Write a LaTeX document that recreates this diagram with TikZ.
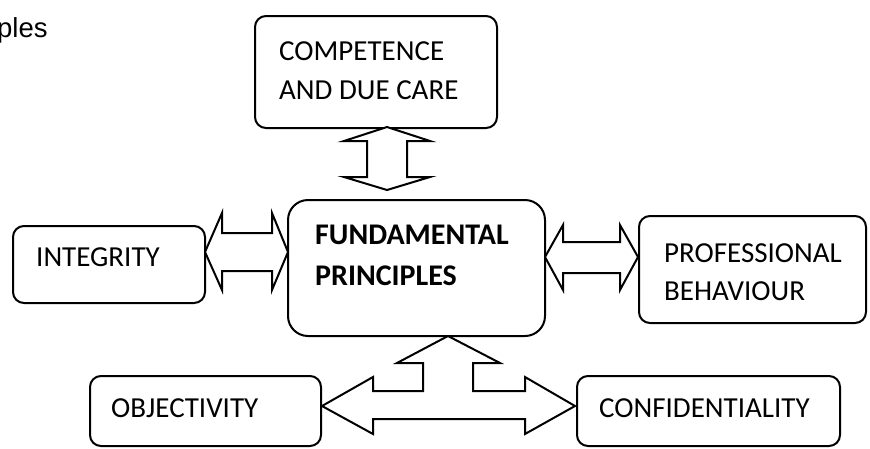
\documentclass[tikz,border=0pt]{standalone}
\usepackage{fontspec}
\setmainfont{Carlito}
\newfontfamily\arialfont{Liberation Sans}
\begin{document}
\begin{tikzpicture}[x=1pt,y=-1pt,
  line join=miter,
  box/.style={draw=black, line width=2pt, rounded corners=11pt, inner sep=0pt, fill=white},
  lbl/.style={anchor=base west, inner sep=0pt, font=\fontsize{29}{34}\selectfont},
  blbl/.style={lbl, font=\fontsize{30}{34}\selectfont\bfseries},
  blockarrow/.style={draw=black, line width=2pt, fill=white, line join=miter}]
\useasboundingbox (0,0) rectangle (870,448);
\fill[white] (0,0) rectangle (870,448);

% truncated heading text in the top-left corner
\node[anchor=base west, inner sep=0pt, font=\arialfont\fontsize{27.5}{30}\selectfont] (head) at (-3,37) {ples};

% boxes
\node[box, minimum width=242pt, minimum height=112pt] (comp) at (376,72) {};
\node[box, rounded corners=20pt, minimum width=257pt, minimum height=136pt] (fund) at (416.5,268) {};
\node[box, minimum width=192pt, minimum height=77pt] (integ) at (109,264.5) {};
\node[box, minimum width=227pt, minimum height=107pt] (prof) at (752.5,269.5) {};
\node[box, minimum width=231pt, minimum height=70pt] (obj) at (205.5,411) {};
\node[box, minimum width=263pt, minimum height=70pt] (conf) at (708.5,411) {};

% labels
\node[lbl] (comp1) at (279,60) {COMPETENCE};
\node[lbl] (comp2) at (279,99) {AND DUE CARE};
\node[blbl] (fund1) at (315,244) {FUNDAMENTAL};
\node[blbl] (fund2) at (315,285) {PRINCIPLES};
\node[lbl] (integ1) at (36,266) {INTEGRITY};
\node[lbl] (prof1) at (664,262) {PROFESSIONAL};
\node[lbl] (prof2) at (664,300) {BEHAVIOUR};
\node[lbl] (obj1) at (111,417) {OBJECTIVITY};
\node[lbl] (conf1) at (599,417) {CONFIDENTIALITY};

% block arrow: competence <-> fundamental principles
\draw[blockarrow] (387,127) -- (430,141) -- (407,141) -- (407,177) -- (430,177)
  -- (387,190) -- (344,177) -- (367,177) -- (367,141) -- (344,141) -- cycle;

% block arrow: integrity <-> fundamental principles
\draw[blockarrow] (205,252) -- (222,213) -- (222,233) -- (272,233) -- (272,213)
  -- (288,252) -- (272,290) -- (272,271) -- (222,271) -- (222,290) -- cycle;

% block arrow: fundamental principles <-> professional behaviour
\draw[blockarrow] (545,257) -- (563,225) -- (563,242) -- (620,242) -- (620,225)
  -- (638,257) -- (620,290) -- (620,273) -- (563,273) -- (563,290) -- cycle;

% three-way block arrow: objectivity, fundamental principles, confidentiality
\draw[blockarrow] (448,336) -- (500,363) -- (473,363) -- (473,391) -- (525,391)
  -- (525,377) -- (575,406) -- (525,434) -- (525,419) -- (373,419) -- (373,434)
  -- (322,406) -- (373,377) -- (373,391) -- (423,391) -- (423,363) -- (397,363) -- cycle;
\end{tikzpicture}
\end{document}
